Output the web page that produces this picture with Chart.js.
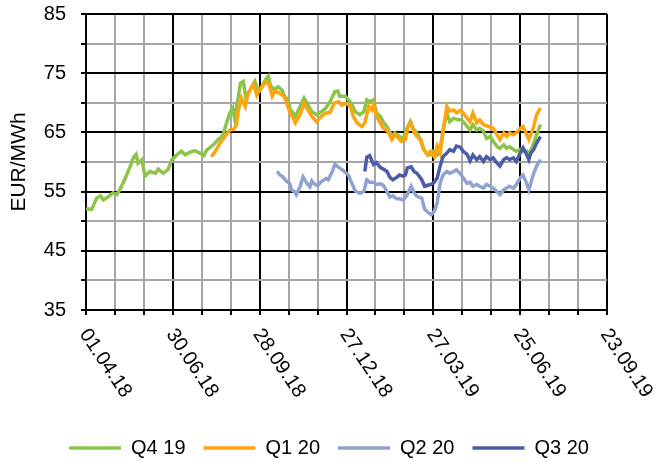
<!DOCTYPE html>
<html>
<head>
<meta charset="utf-8">
<script src="https://cdn.jsdelivr.net/npm/chart.js@4.4.0/dist/chart.umd.min.js"></script>
<style>
  body { margin: 0; background: #fff; }
  #wrap { width: 658px; height: 461px; }
</style>
</head>
<body>
<div id="wrap"><canvas id="myChart"></canvas></div>
<script>
// days since 01.04.18
const xTickDays = [0, 90, 180, 270, 360, 450, 540];
const xTickLabels = ['01.04.18', '30.06.18', '28.09.18', '27.12.18', '27.03.19', '25.06.19', '23.09.19'];
const yTickLabels = [35, 45, 55, 65, 75, 85];

const seriesNames = ['Q4 19', 'Q1 20', 'Q2 20', 'Q3 20'];

const q4Days = [0,6,11,15,18,23,28,32,35,40,46,49,52,54,58,61,66,72,75,80,85,89,94,99,103,106,110,113,118,122,125,132,137,139,142,146,149,152,154,158,160,163,166,168,172,175,179,182,186,189,191,195,199,203,206,209,212,217,222,226,230,234,239,244,248,253,258,261,263,269,272,275,279,284,288,291,294,298,301,305,308,313,317,320,325,329,332,336,339,343,346,350,353,357,360,364,367,370,374,377,381,386,389,391,395,398,401,405,408,412,415,419,422,426,429,433,436,439,443,446,450,453,457,460,464,467,471];
const q4Values = [52.1,52.0,53.9,54.3,53.6,54.1,54.8,54.5,55.3,57.0,59.3,60.7,61.3,59.8,60.4,57.6,58.4,58.1,58.8,58.1,58.7,60.4,61.2,61.8,61.2,61.5,61.8,61.9,61.5,61.1,62.0,62.9,63.8,64.0,64.6,66.8,68.3,69.1,67.4,71.1,73.3,73.6,70.5,71.6,72.7,73.6,71.9,72.7,73.9,74.5,73.0,72.2,72.7,72.2,71.1,70.5,68.8,67.7,69.4,70.8,69.7,68.5,68.0,68.5,69.0,70.2,71.9,72.0,71.1,71.1,70.5,69.9,68.5,68.0,68.5,70.5,70.2,70.5,68.3,67.7,66.8,65.7,64.3,64.9,64.3,64.0,65.4,66.8,65.7,64.9,64.0,62.1,61.5,61.2,61.8,61.2,62.1,65.4,68.3,66.8,67.4,67.1,67.2,66.8,66.0,65.4,66.3,65.4,65.7,65.2,64.0,64.3,63.5,62.6,62.3,62.9,62.3,62.6,62.1,61.8,62.1,61.8,61.8,61.5,63.2,64.6,66.3];

const q1Days = [130,134,139,144,149,153,156,158,161,165,168,172,174,177,180,184,187,190,193,196,201,205,207,211,217,222,226,230,234,239,244,248,253,257,262,265,270,274,277,281,286,289,293,296,298,301,305,308,313,317,320,324,327,331,334,337,340,343,347,350,354,357,361,364,367,370,374,377,381,384,388,391,395,398,401,405,408,412,417,422,426,429,433,436,439,443,446,450,453,456,459,461,464,467,471];
const q1Values = [60.9,61.8,63.2,64.3,65.4,65.5,66.3,68.8,70.8,69.4,71.6,72.7,73.0,71.3,72.2,73.0,73.6,73.0,71.1,72.0,71.6,71.1,70.5,68.5,66.6,68.0,69.9,68.8,67.7,66.8,67.7,68.2,68.4,69.9,70.2,69.6,69.9,69.4,67.7,66.6,66.0,66.6,69.4,68.8,69.6,67.7,66.6,65.7,65.2,63.8,64.6,64.0,63.5,63.8,66.0,66.6,64.9,64.3,63.8,62.1,61.2,61.8,60.9,62.7,61.5,64.9,69.4,68.6,68.8,68.3,68.7,68.3,67.4,66.8,68.3,66.6,67.1,66.3,66.0,65.7,64.6,63.8,64.9,64.3,64.9,64.6,64.9,65.7,66.0,64.9,63.8,64.6,66.0,68.0,69.1];

const q2Days = [198,201,204,208,211,213,216,218,222,225,229,232,234,236,240,244,249,251,255,258,262,267,272,275,279,284,288,291,294,298,301,305,308,312,315,318,322,325,329,333,337,340,343,348,351,355,358,361,364,367,370,374,377,381,384,388,391,395,398,401,405,408,412,415,419,422,426,429,433,436,439,443,446,450,453,456,459,461,464,467,471];
const q2Values = [58.4,57.8,57.5,56.7,56.4,55.3,55.0,54.5,55.9,57.5,56.4,55.8,56.8,56.4,56.0,56.7,57.2,57.0,58.3,59.6,59.1,58.5,57.8,56.6,55.1,54.7,55.0,57.0,56.6,56.6,56.2,56.3,56.1,55.0,54.1,54.3,53.8,53.8,53.6,54.5,55.9,54.8,54.2,53.9,52.0,51.4,51.1,51.7,53.1,56.4,57.8,58.4,58.1,58.4,58.7,58.0,57.3,56.4,56.6,55.9,56.2,55.9,55.6,56.2,55.9,55.6,55.0,54.5,55.3,55.6,55.9,55.6,56.2,57.3,57.8,56.7,55.3,56.4,58.1,59.3,60.4];

const q3Days = [289,291,294,298,301,305,308,312,315,318,322,325,329,331,333,337,340,343,348,351,357,360,364,367,370,374,377,381,384,388,391,395,398,401,405,408,412,415,419,422,426,429,433,436,439,443,446,450,453,456,459,461,464,467,471];
const q3Values = [58.4,60.8,61.1,59.6,59.9,59.1,58.8,58.4,57.4,57.0,57.4,57.8,57.6,57.8,59.0,59.2,58.4,58.1,57.0,55.9,56.2,56.4,57.3,59.3,60.9,61.5,62.1,61.8,62.7,62.5,61.8,61.3,60.2,61.2,60.4,60.9,60.1,60.9,60.4,60.7,59.8,59.3,60.4,60.7,60.4,60.7,60.1,61.5,62.4,61.5,60.4,61.5,62.1,63.2,64.3];

const colors = ['#8cc44a', '#fda50f', '#8fa3d3', '#4a5da6'];

const FONT = '"Liberation Sans", Arial, sans-serif';

const initChart = () => {

  const canvas = document.getElementById('myChart');

  const toPoints = (days, values) => days.map((d, i) => ({ x: d, y: values[i] }));

  const allDays = [q4Days, q1Days, q2Days, q3Days];
  const allValues = [q4Values, q1Values, q2Values, q3Values];

  const datasets = seriesNames.map((name, i) => ({
    label: name,
    data: toPoints(allDays[i], allValues[i]),
    borderColor: colors[i],
    backgroundColor: colors[i],
    borderWidth: 3.5,
    pointRadius: 0,
    tension: 0,
    order: 3 - i,
  }));

  // x labels are drawn turned down to the right
  const xLabelsPlugin = {
    id: 'xLabels',
    afterDraw: (chart) => {
      const ctx = chart.ctx;
      const xs = chart.scales.x;
      ctx.save();
      ctx.font = '20px ' + FONT;
      ctx.fillStyle = '#000';
      ctx.textAlign = 'left';
      ctx.textBaseline = 'middle';
      xTickDays.forEach((d, i) => {
        const px = xs.getPixelForValue(d);
        ctx.save();
        ctx.translate(px - 2.5, xs.top + 21);
        ctx.rotate(56 * Math.PI / 180);
        ctx.fillText(xTickLabels[i], 0, 0);
        ctx.restore();
      });
      ctx.restore();
    }
  };

  new Chart(canvas, {
    type: 'line',
    data: { datasets },
    options: {
      responsive: true,
      maintainAspectRatio: false,
      animation: false,
      layout: { padding: { left: 0, right: 0, top: 14, bottom: -7 } },
      plugins: {
        tooltip: { enabled: false },
        legend: {
          position: 'bottom',
          labels: {
            usePointStyle: true,
            pointStyle: 'line',
            pointStyleWidth: 52,
            padding: 18,
            color: '#000',
            font: { family: FONT, size: 20 },
            sort: (a, b) => a.datasetIndex - b.datasetIndex,
          }
        }
      },
      scales: {
        x: {
          type: 'linear',
          min: 0,
          max: 540,
          ticks: { stepSize: 30, display: false },
          grid: {
            color: (c) => (c.tick && c.tick.value % 90 === 0) ? '#000' : '#a6a6a6',
            lineWidth: 2,
            tickColor: '#000',
            tickLength: 5,
          },
          border: { color: '#000', width: 2 },
          afterFit: (s) => { s.height = 110; },
        },
        y: {
          min: 35,
          max: 85,
          ticks: {
            stepSize: 5,
            padding: 15,
            color: '#000',
            font: { family: FONT, size: 20 },
            callback: (v) => yTickLabels.includes(v) ? v : '',
          },
          grid: {
            color: (c) => (c.tick && yTickLabels.includes(c.tick.value)) ? '#000' : '#a6a6a6',
            lineWidth: 2,
            tickColor: '#000',
            tickLength: 5,
          },
          border: { color: '#000', width: 2 },
          title: {
            display: true,
            text: 'EUR/MWh',
            color: '#000',
            font: { family: FONT, size: 21 },
            padding: { top: 7, bottom: 0 },
          },
          afterFit: (s) => {
            s.width = 86;
            s.paddingTop = 0;
            s.paddingBottom = 0;
          },
        },
        // empty axis on the right, keeps room for the last date label
        yr: {
          position: 'right',
          min: 35,
          max: 85,
          grid: { display: false },
          border: { display: false },
          ticks: { display: false },
          afterFit: (s) => {
            s.width = 51;
            s.paddingTop = 0;
            s.paddingBottom = 0;
          },
        }
      }
    },
    plugins: [xLabelsPlugin]
  });
};

initChart();
</script>
</body>
</html>
